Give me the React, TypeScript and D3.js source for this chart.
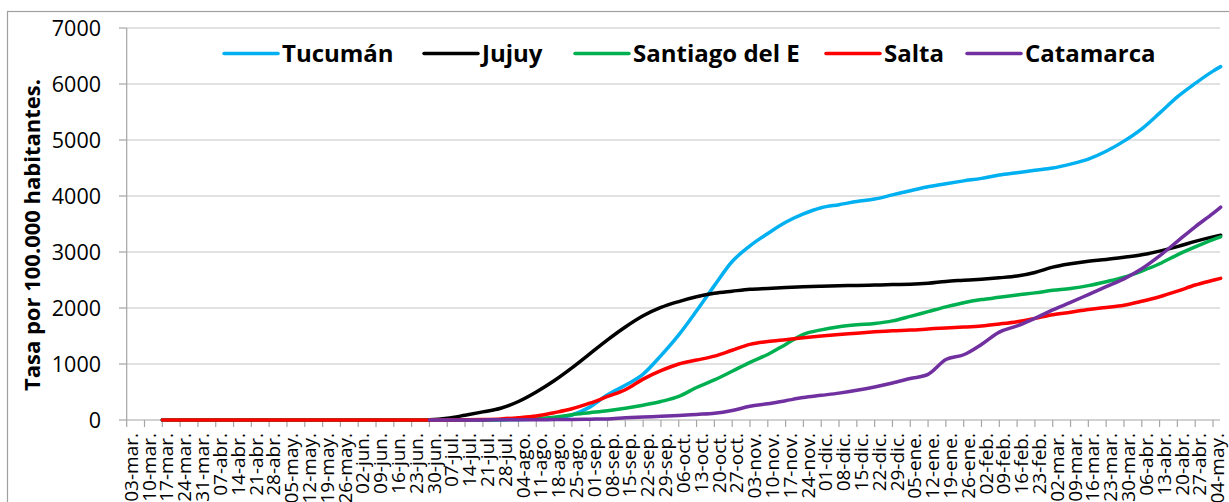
import React, { useEffect } from "react";
import * as d3 from "d3";

const tickLabels = [
  "03-mar.", "10-mar.", "17-mar.", "24-mar.", "31-mar.", "07-abr.", "14-abr.", "21-abr.", "28-abr.",
  "05-may.", "12-may.", "19-may.", "26-may.", "02-jun.", "09-jun.", "16-jun.", "23-jun.", "30-jun.",
  "07-jul.", "14-jul.", "21-jul.", "28-jul.", "04-ago.", "11-ago.", "18-ago.", "25-ago.", "01-sep.",
  "08-sep.", "15-sep.", "22-sep.", "29-sep.", "06-oct.", "13-oct.", "20-oct.", "27-oct.", "03-nov.",
  "10-nov.", "17-nov.", "24-nov.", "01-dic.", "08-dic.", "15-dic.", "22-dic.", "29-dic.", "05-ene.",
  "12-ene.", "19-ene.", "26-ene.", "02-feb.", "09-feb.", "16-feb.", "23-feb.", "02-mar.", "09-mar.",
  "16-mar.", "23-mar.", "30-mar.", "06-abr.", "13-abr.", "20-abr.", "27-abr.", "04-may.",
];

const axisStart = new Date(2020, 2, 3);
const axisEnd = new Date(2021, 4, 4);
const lastDataDate = new Date(2021, 4, 7);
const firstDataWeek = 2; // data starts 17-mar

const yTicks = [0, 1000, 2000, 3000, 4000, 5000, 6000, 7000];

// weekly values from 17-mar-2020 to 04-may-2021, plus last day (07-may)
const zeros15 = [0, 0, 0, 0, 0, 0, 0, 0, 0, 0, 0, 0, 0, 0, 0];
const nulls15 = [null, null, null, null, null, null, null, null, null, null, null, null, null, null, null];

const tucuman = [...zeros15,
  0, 0, 0, 2, 5, 10, 20, 40, 90, 230, 450, 620, 820, 1150, 1520, 1950, 2400, 2830, 3110, 3330,
  3530, 3680, 3790, 3845, 3900, 3945, 4020, 4095, 4165, 4220, 4270, 4315, 4375, 4417, 4460, 4500,
  4570, 4660, 4800, 4980, 5200, 5480, 5770, 6010, 6230, 6310];
const jujuy = [...zeros15,
  5, 30, 85, 145, 210, 330, 500, 700, 930, 1180, 1430, 1660, 1860, 2010, 2115, 2200, 2262, 2300, 2335, 2350,
  2365, 2380, 2390, 2398, 2402, 2410, 2418, 2423, 2440, 2475, 2495, 2515, 2540, 2571, 2635, 2730,
  2790, 2835, 2865, 2905, 2950, 3015, 3095, 3190, 3270, 3300];
const santiago = [...zeros15,
  0, 0, 0, 2, 5, 10, 20, 50, 95, 130, 165, 210, 265, 330, 420, 580, 715, 870, 1030, 1170,
  1350, 1530, 1610, 1665, 1700, 1725, 1770, 1850, 1935, 2020, 2095, 2150, 2190, 2232, 2270, 2315,
  2350, 2400, 2470, 2550, 2660, 2790, 2950, 3090, 3220, 3270];
const salta = [...zeros15,
  0, 2, 5, 10, 20, 40, 70, 130, 200, 300, 420, 540, 730, 880, 1000, 1070, 1140, 1245, 1350, 1400,
  1435, 1470, 1500, 1525, 1550, 1575, 1595, 1605, 1625, 1645, 1660, 1680, 1715, 1756, 1815, 1880,
  1925, 1975, 2010, 2050, 2120, 2200, 2300, 2410, 2495, 2530];
const catamarca = [...nulls15,
  0, 0, 0, 2, 3, 5, 5, 8, 10, 15, 20, 40, 55, 65, 80, 100, 120, 170, 245, 290,
  345, 400, 440, 480, 530, 590, 660, 740, 815, 1080, 1165, 1350, 1570, 1680, 1815, 1965,
  2100, 2240, 2380, 2520, 2700, 2930, 3190, 3450, 3690, 3800];

const seriesNames = ["Tucumán", "Jujuy", "Santiago del E", "Salta", "Catamarca"];
const seriesValues = [tucuman, jujuy, santiago, salta, catamarca];
const seriesColors = ["#00b0f0", "#000000", "#00b050", "#ff0000", "#7030a0"];
const legendX = [224, 424, 575, 826, 967];

const tickDates = tickLabels.map((_, i) => d3.timeDay.offset(axisStart, 7 * i));
const dataDates = [
  ...d3.range(firstDataWeek, tickLabels.length).map((i) => d3.timeDay.offset(axisStart, 7 * i)),
  lastDataDate,
];

const FONT = "'Open Sans', 'Liberation Sans', sans-serif";

export default function App() {
  useEffect(() => {
    document.body.style.margin = "0";
  }, []);

  const W = 1229;
  const H = 502;
  const x = d3.scaleTime().domain([axisStart, axisEnd]).range([126.7, 1213]);
  const y = d3.scaleLinear().domain([0, 7000]).range([420, 28]);
  const plotRight = 1220;

  const line = d3
    .line<number | null>()
    .defined((d) => d !== null)
    .x((_, i) => x(dataDates[i]))
    .y((d) => y(d as number))
    .curve(d3.curveMonotoneX);

  return (
    <svg width={W} height={H} style={{ display: "block", background: "#fff" }} fontFamily={FONT}>
      <rect x={7.5} y={11.5} width={W + 20} height={H + 20} fill="#fff" stroke="#a0a0a0" strokeWidth={1.2} />
      {/* gridlines */}
      {yTicks.filter((t) => t > 0).map((t) => (
        <line key={t} x1={126.7} x2={plotRight} y1={y(t)} y2={y(t)} stroke="#d9d9d9" strokeWidth={1.5} />
      ))}
      {/* y axis */}
      <line x1={126.7} x2={126.7} y1={y(7000)} y2={y(0)} stroke="#a6a6a6" strokeWidth={1.2} />
      {yTicks.map((t) => (
        <g key={t}>
          <line x1={119} x2={126.7} y1={y(t)} y2={y(t)} stroke="#a6a6a6" strokeWidth={1.2} />
          <text x={101} y={y(t)} dy="0.35em" textAnchor="end" fontSize={21.5} fill="#000">
            {t}
          </text>
        </g>
      ))}
      <text
        transform={`translate(32,235) rotate(-90)`}
        textAnchor="middle"
        dy="0.35em"
        fontSize={22}
        fontWeight="bold"
        fill="#000"
      >
        Tasa  por 100.000 habitantes.
      </text>
      {/* x axis */}
      <line x1={126.7} x2={plotRight} y1={y(0)} y2={y(0)} stroke="#a6a6a6" strokeWidth={1.2} />
      {tickDates.map((d, i) => (
        <g key={i}>
          <line x1={x(d)} x2={x(d)} y1={y(0)} y2={y(0) + 7} stroke="#a6a6a6" strokeWidth={1.2} />
          <text
            transform={`translate(${x(d) + 4.5},433) rotate(-90)`}
            textAnchor="end"
            dy="0.35em"
            fontSize={19}
            fill="#000"
          >
            {tickLabels[i]}
          </text>
        </g>
      ))}
      {/* series */}
      {seriesValues.map((vals, si) => (
        <path
          key={seriesNames[si]}
          d={line(vals) || ""}
          fill="none"
          stroke={seriesColors[si]}
          strokeWidth={3.5}
          strokeLinejoin="round"
          strokeLinecap="round"
        />
      ))}
      {/* legend */}
      {seriesNames.map((name, si) => (
        <g key={name}>
          <line
            x1={legendX[si]}
            x2={legendX[si] + 54}
            y1={53.5}
            y2={53.5}
            stroke={seriesColors[si]}
            strokeWidth={3.5}
            strokeLinecap="round"
          />
          <text x={legendX[si] + 58} y={53.5} dy="0.35em" fontSize={24} fontWeight="bold" fill="#000">
            {name}
          </text>
        </g>
      ))}
    </svg>
  );
}
